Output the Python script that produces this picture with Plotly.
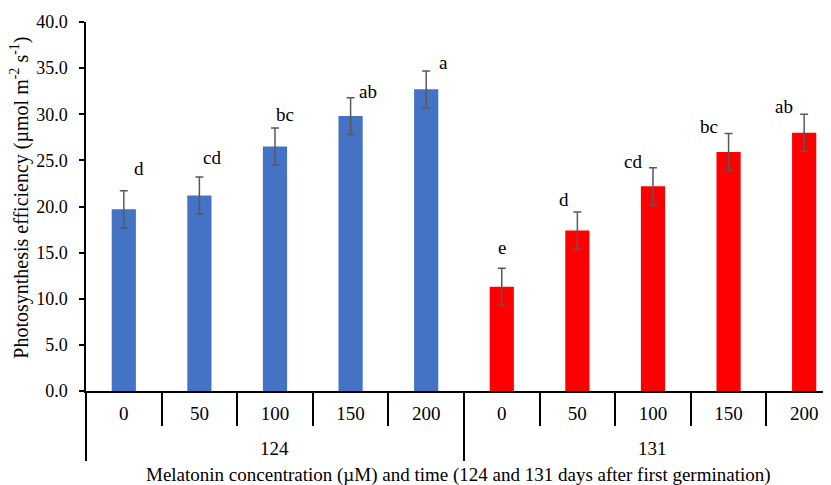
import plotly.graph_objects as go

groups = ["124", "131"]
conc = ["0", "50", "100", "150", "200", "0", "50", "100", "150", "200"]
means = [19.7, 21.2, 26.5, 29.8, 32.7, 11.3, 17.4, 22.2, 25.9, 28.0]
errs = [2.0, 2.0, 2.0, 2.0, 2.0, 2.0, 2.0, 2.0, 2.0, 2.0]
letters = ["d", "cd", "bc", "ab", "a", "e", "d", "cd", "bc", "ab"]
colors = ["#4472C4"] * 5 + ["#FF0000"] * 5

# label offsets (px) relative to top of error bar
lx = [15, 13, 10, 17, 17, 0, -13, -20, -20, -20]
ly = [22, 19, 14, 6, 8, 21, 13, 6, 7, 8]

FONT = "Liberation Serif"
FS = 19
n = len(means)
xs = list(range(n))
XR = [-0.5, 9.355]

fig = go.Figure()
fig.add_trace(go.Bar(
    x=xs, y=means,
    marker=dict(color=colors, line=dict(width=0)),
    width=0.32,
    error_y=dict(type="data", array=errs, color="#595959", thickness=1.5, width=4),
    showlegend=False,
))
# invisible traces to activate the boundary axes
fig.add_trace(go.Scatter(x=[0], y=[0], xaxis="x2", mode="markers",
                         marker=dict(opacity=0), showlegend=False, hoverinfo="skip"))
fig.add_trace(go.Scatter(x=[0], y=[0], xaxis="x3", mode="markers",
                         marker=dict(opacity=0), showlegend=False, hoverinfo="skip"))

for i in range(n):
    fig.add_annotation(
        x=i, y=means[i] + errs[i], xref="x", yref="y",
        text=letters[i], showarrow=False,
        xshift=lx[i], yshift=ly[i],
        font=dict(family=FONT, size=FS, color="black"),
    )

gsize = n // len(groups)
for g, name in enumerate(groups):
    fig.add_annotation(
        x=g * gsize + (gsize - 1) / 2, y=-0.1545, xref="x", yref="paper",
        text=name, showarrow=False, yanchor="middle",
        font=dict(family=FONT, size=FS, color="black"),
    )

fig.add_annotation(
    x=0.5, y=-0.228, xref="paper", yref="paper",
    text="Melatonin concentration (µM) and time (124 and 131 days after first germination)",
    showarrow=False, yanchor="middle",
    font=dict(family=FONT, size=FS, color="black"),
)

fig.add_annotation(
    x=-0.0893, y=0.525, xref="paper", yref="paper",
    text="Photosynthesis efficiency (µmol m<sup>-2</sup> s<sup>-1</sup>)",
    showarrow=False, textangle=-90, xanchor="center", yanchor="middle",
    borderpad=0,
    font=dict(family=FONT, size=20, color="black"),
)

boundaries = [i - 0.5 for i in range(n + 1)]
group_bounds = [g * gsize - 0.5 for g in range(len(groups) + 1)]

# page body has an 8px margin, so the figure is offset by (8, 8)
fig.update_layout(
    width=823, height=477,
    margin=dict(l=78, r=0, t=14, b=94),
    plot_bgcolor="white", paper_bgcolor="white",
    font=dict(family=FONT, size=FS, color="black"),
    yaxis=dict(
        range=[0, 40], dtick=5, tickformat=".1f", automargin=False,
        showline=True, linecolor="black", linewidth=1.5,
        ticks="outside", ticklen=5, tickcolor="black", tickwidth=1.5,
        ticklabelstandoff=8,
        showgrid=False, zeroline=False,
        tickfont=dict(family=FONT, size=18),
    ),
    xaxis=dict(
        range=XR, automargin=False,
        tickmode="array", tickvals=xs, ticktext=conc,
        showline=True, linecolor="black", linewidth=1.5,
        ticks="outside", ticklen=4, tickcolor="rgba(0,0,0,0)",
        showgrid=False, zeroline=False,
        tickfont=dict(family=FONT, size=FS),
    ),
    xaxis2=dict(
        range=XR, overlaying="x", side="bottom", anchor="y", automargin=False,
        tickmode="array", tickvals=boundaries, showticklabels=False,
        ticks="outside", ticklen=34, tickcolor="black", tickwidth=1.5,
        showgrid=False, zeroline=False, showline=False,
    ),
    xaxis3=dict(
        range=XR, overlaying="x", side="bottom", anchor="y", automargin=False,
        tickmode="array", tickvals=group_bounds, showticklabels=False,
        ticks="outside", ticklen=69, tickcolor="black", tickwidth=1.5,
        showgrid=False, zeroline=False, showline=False,
    ),
)

fig.write_html("out.html")
